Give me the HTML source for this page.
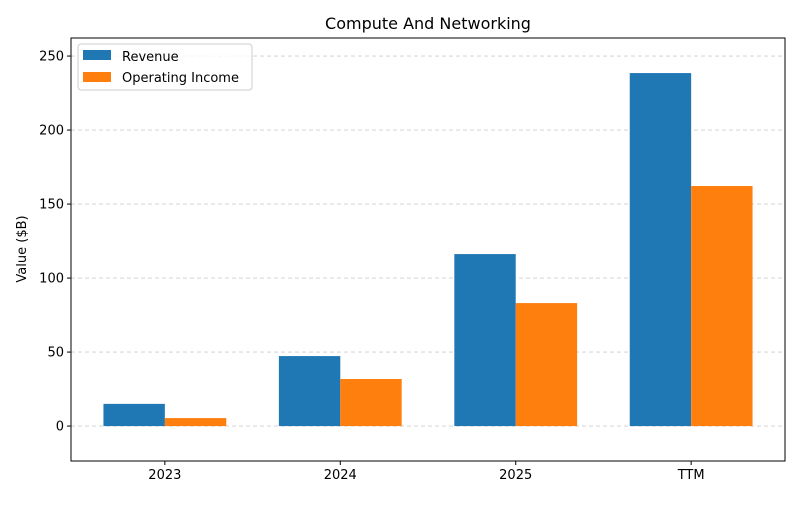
<!DOCTYPE html>
<html><head><meta charset="utf-8"><style>
body{margin:0;background:#fff;font-family:"Liberation Sans","DejaVu Sans",sans-serif;}
svg text{font-family:"DejaVu Sans","Liberation Sans",sans-serif;}
</style></head><body>
<svg id="chart" width="800" height="500" xmlns="http://www.w3.org/2000/svg">
<rect width="800" height="500" fill="#fff"/>
<text x="428" y="29" text-anchor="middle" font-size="16" fill="#000">Compute And Networking</text>
<g id="grid"></g>
<g id="bars"></g>
<rect x="71" y="38" width="714" height="423" fill="none" stroke="#000" stroke-width="1"/>
<g id="axes"></g>
<text transform="translate(26,249) rotate(-90)" text-anchor="middle" font-size="13">Value ($B)</text>
<g>
<rect x="78" y="44" width="174" height="46" rx="3" fill="#fff" fill-opacity="0.8" stroke="#ccc"/>
<g><rect x="83" y="50" width="28" height="10" fill="#1f77b4"/><text x="122" y="61" font-size="13">Revenue</text></g>
<g><rect x="83" y="72" width="28" height="10" fill="#ff7f0e"/><text x="122" y="82" font-size="13">Operating Income</text></g>
</g>
</svg>
<script>
const categories=["2023","2024","2025","TTM"];
const revenue=[15,47.3,116.2,238.5];
const operatingIncome=[5.4,31.8,83.1,162.2];
const yTicks=[0,50,100,150,200,250];
const NS="http://www.w3.org/2000/svg";
const L=71,R=785,T=38,B=461,yMin=-23.6,yMax=262.2,xMin=-0.535,xMax=3.535;
function y(v){return B-(v-yMin)/(yMax-yMin)*(B-T);}
function x(i){return L+(i-xMin)/(xMax-xMin)*(R-L);}
function mk(tag,attrs,parent){const e=document.createElementNS(NS,tag);for(const k in attrs)e.setAttribute(k,attrs[k]);parent.appendChild(e);return e;}
const grid=document.getElementById('grid'),bars=document.getElementById('bars'),axes=document.getElementById('axes');
yTicks.forEach(t=>{
  const g=mk('line',{x1:L,x2:R,y1:y(t),y2:y(t),stroke:'#ccc','stroke-dasharray':'4,3','stroke-width':0.8},grid);
  
  
  mk('line',{x1:L-4,x2:L,y1:y(t),y2:y(t),stroke:'#000'},axes);
  const tx=mk('text',{x:L-7,y:y(t)+4.5,'text-anchor':'end','font-size':13},axes);
  tx.textContent=t;
  
  
});
const w=0.35*(x(1)-x(0));
categories.forEach((c,i)=>{
  const cx=x(i);
  const b1=mk('rect',{x:cx-w,y:y(revenue[i]),width:w,height:y(0)-y(revenue[i]),fill:'#1f77b4'},bars);
  
  
  const b2=mk('rect',{x:cx,y:y(operatingIncome[i]),width:w,height:y(0)-y(operatingIncome[i]),fill:'#ff7f0e'},bars);
  
  
  mk('line',{x1:cx,x2:cx,y1:B,y2:B+4,stroke:'#000'},axes);
  const tx=mk('text',{x:cx,y:B+18,'text-anchor':'middle','font-size':13},axes);
  tx.textContent=c;
  
  
});
</script>
</body></html>
